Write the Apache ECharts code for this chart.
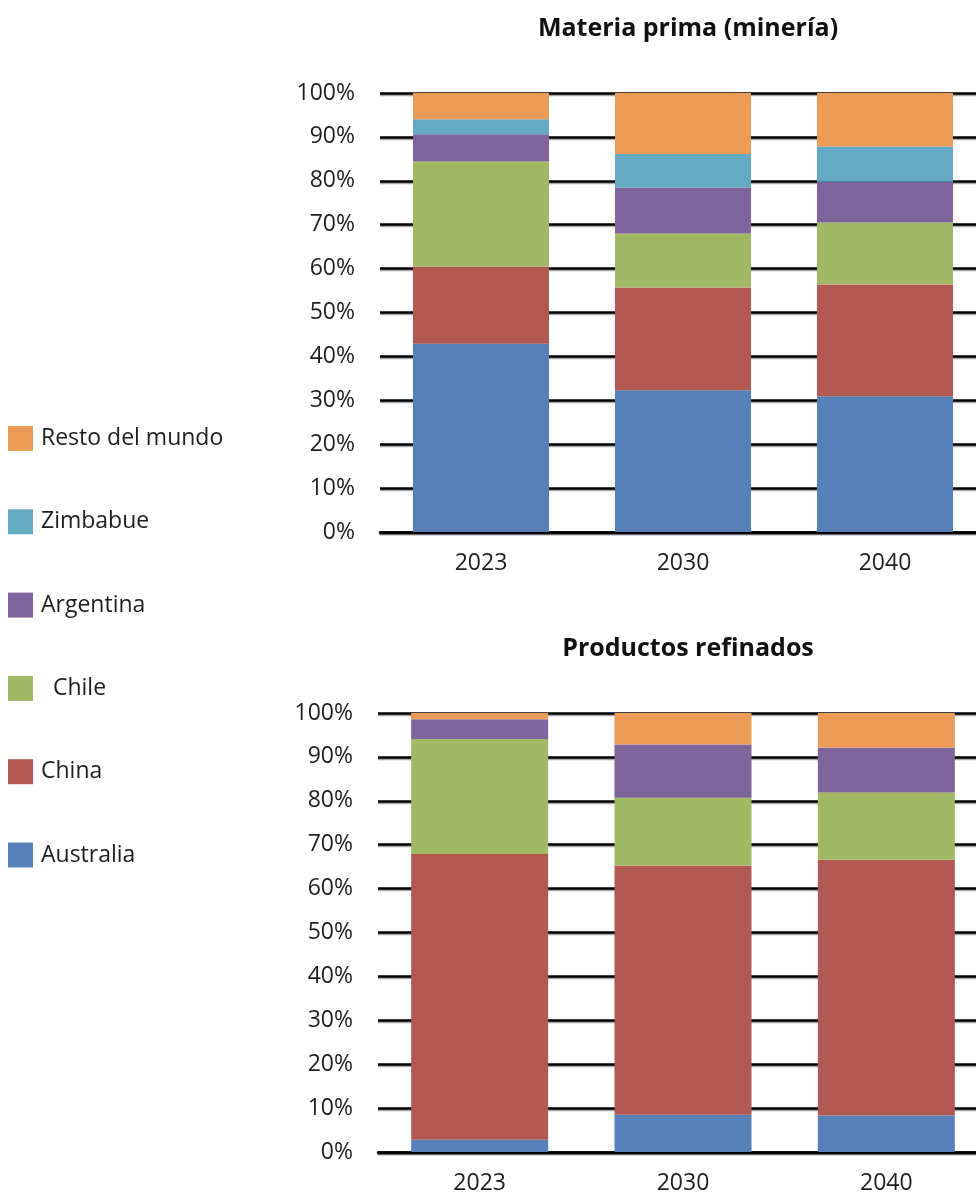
<!DOCTYPE html>
<html>
<head>
<meta charset="utf-8">
<script src="https://cdn.jsdelivr.net/npm/echarts@6/dist/echarts.min.js"></script>
<style>
html,body{margin:0;padding:0;background:#fff;overflow:hidden;}
#c{width:1000px;height:1199px;}
</style>
</head>
<body>
<div id="c"></div>
<script>
const years = ['2023', '2030', '2040'];
const seriesNames = ['Australia', 'China', 'Chile', 'Argentina', 'Zimbabue', 'Resto del mundo'];
const legendOrder = ['Resto del mundo', 'Zimbabue', 'Argentina', 'Chile', 'China', 'Australia'];
const yTicks = [0, 10, 20, 30, 40, 50, 60, 70, 80, 90, 100];

// Materia prima (minería) — shares in %
const mineAustralia = [42.9, 32.3, 30.9];
const mineChina = [17.6, 23.4, 25.5];
const mineChile = [23.9, 12.3, 14.1];
const mineArgentina = [6.2, 10.5, 9.3];
const mineZimbabue = [3.4, 7.6, 8.0];
const mineResto = [6.0, 13.9, 12.2];

// Productos refinados — shares in %
const refAustralia = [2.8, 8.5, 8.3];
const refChina = [65.1, 56.7, 58.3];
const refChile = [26.2, 15.5, 15.3];
const refArgentina = [4.5, 12.1, 10.2];
const refZimbabue = [0, 0, 0];
const refResto = [1.4, 7.2, 7.9];

const colors = {
  'Australia': '#5880B8',
  'China': '#B15852',
  'Chile': '#A1B865',
  'Argentina': '#7D659C',
  'Zimbabue': '#64AAC3',
  'Resto del mundo': '#EA9B58'
};

const mineData = [mineAustralia, mineChina, mineChile, mineArgentina, mineZimbabue, mineResto];
const refData = [refAustralia, refChina, refChile, refArgentina, refZimbabue, refResto];

const labelFont = {fontFamily: 'Open Sans', fontSize: 23, color: '#1e1e1e'};

function yAxis(gi) {
  return {
    type: 'value', gridIndex: gi, min: yTicks[0], max: yTicks[yTicks.length - 1], interval: 10,
    axisLine: {show: false}, axisTick: {show: false},
    axisLabel: Object.assign({formatter: '{value}%', margin: 25}, labelFont),
    splitLine: {lineStyle: {color: '#000', width: 2.5, shadowColor: 'rgba(0,0,0,0.35)', shadowOffsetY: 1.5, shadowBlur: 0}}
  };
}
function xAxis(gi) {
  return {
    type: 'category', gridIndex: gi, data: years,
    axisLine: {lineStyle: {color: '#000', width: 2.5, shadowColor: 'rgba(0,0,0,0.35)', shadowOffsetY: 1.5}},
    axisTick: {show: false},
    axisLabel: Object.assign({margin: 20}, labelFont)
  };
}

const series = [];
seriesNames.forEach((n, i) => {
  series.push({name: n, type: 'bar', stack: 'a', xAxisIndex: 0, yAxisIndex: 0, barWidth: 136,
    itemStyle: {color: colors[n]}, data: mineData[i]});
});
seriesNames.forEach((n, i) => {
  series.push({name: n, type: 'bar', stack: 'b', xAxisIndex: 1, yAxisIndex: 1, barWidth: 137,
    itemStyle: {color: colors[n]}, data: refData[i]});
});

const chart = echarts.init(document.getElementById('c'), null, {renderer: 'canvas'});
chart.setOption({
  animation: false,
  backgroundColor: '#fff',
  title: [
    {text: 'Materia prima (minería)', left: 683, top: 11, textAlign: 'center',
      textStyle: {fontFamily: 'Open Sans', fontWeight: 'bold', fontSize: 25, color: '#111'}},
    {text: 'Productos refinados', left: 683, top: 631, textAlign: 'center',
      textStyle: {fontFamily: 'Open Sans', fontWeight: 'bold', fontSize: 25, color: '#111'}}
  ],
  legend: {
    orient: 'vertical', left: 8, top: 426, padding: 0,
    data: legendOrder, icon: 'rect', itemWidth: 25, itemHeight: 25, itemGap: 58.3,
    formatter: function (n) { return n === 'Chile' ? '  Chile' : n; },
    textStyle: {fontFamily: 'Open Sans', fontSize: 23, color: '#1e1e1e', padding: [6, 0, 0, 3]},
    selectedMode: false
  },
  grid: [
    {left: 380, top: 93, height: 439, width: 606},
    {left: 378, top: 713, height: 439, width: 610}
  ],
  xAxis: [xAxis(0), xAxis(1)],
  yAxis: [yAxis(0), yAxis(1)],
  series: series
});
</script>
</body>
</html>
